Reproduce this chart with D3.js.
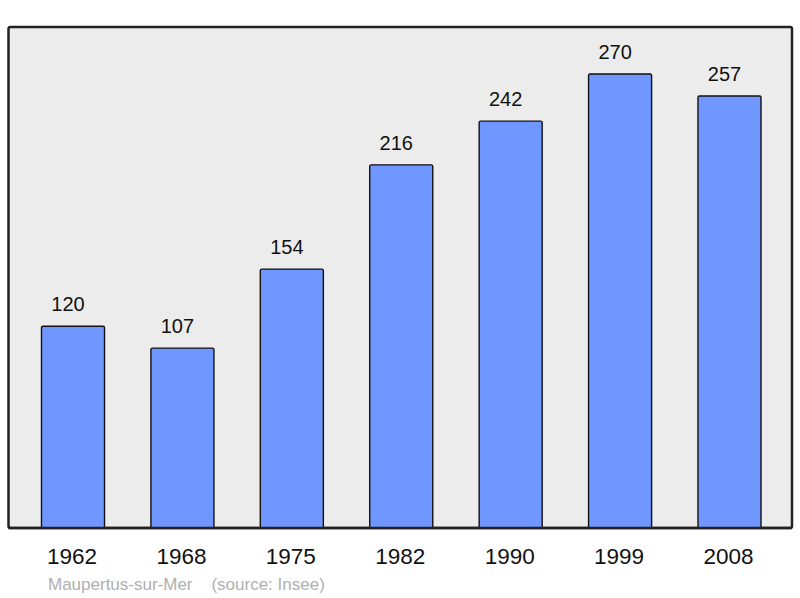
<!DOCTYPE html>
<html>
<head>
<meta charset="utf-8">
<script src="https://cdn.jsdelivr.net/npm/d3@7"></script>
<style>
  body { margin: 0; background: #fff; }
  svg { display: block; font-family: 'Liberation Sans', Arial, sans-serif; }
</style>
</head>
<body>
<div class="container"></div>
<script>
let years = ['1962', '1968', '1975', '1982', '1990', '1999', '2008']
let population = [120, 107, 154, 216, 242, 270, 257]
let caption = 'Maupertus-sur-Mer    (source: Insee)'

let width = 800
let height = 598
let plot = { left: 8.5, right: 792, top: 27, bottom: 528 }

let svg = d3.select('.container')
    .append('svg')
    .attr('width', width)
    .attr('height', height)

let xScale = d3.scaleBand()
    .domain(years)
    .range([18.3, 784.2])
    .paddingInner(0.424)
    .paddingOuter(0.212)

let yScale = d3.scaleLinear()
    .domain([0, 298])
    .range([plot.bottom, plot.top])

// background frame
svg.append('rect')
    .attr('x', plot.left)
    .attr('y', plot.top)
    .attr('width', plot.right - plot.left)
    .attr('height', plot.bottom - plot.top)
    .attr('rx', 2)
    .attr('fill', '#ececec')
    .attr('stroke', '#222')
    .attr('stroke-width', 2.5)

svg.selectAll('rect.bar')
    .data(population)
    .enter()
    .append('rect')
    .attr('class', 'bar')
    .attr('x', (d, i) => xScale(years[i]))
    .attr('y', d => yScale(d))
    .attr('width', xScale.bandwidth())
    .attr('height', d => plot.bottom - yScale(d))
    .attr('rx', 1.5)
    .attr('fill', '#7097ff')
    .attr('stroke', '#111')
    .attr('stroke-width', 1.4)

// redraw bottom edge so bars sit on the frame
svg.append('line')
    .attr('x1', plot.left)
    .attr('x2', plot.right)
    .attr('y1', plot.bottom)
    .attr('y2', plot.bottom)
    .attr('stroke', '#222')
    .attr('stroke-width', 2.5)

svg.selectAll('text.value')
    .data(population)
    .enter()
    .append('text')
    .attr('class', 'value')
    .attr('x', (d, i) => xScale(years[i]) + xScale.bandwidth() / 2 - 5)
    .attr('y', d => yScale(d) - 15)
    .attr('text-anchor', 'middle')
    .attr('font-size', 20)
    .attr('fill', '#111')
    .text(d => d)

let xAxis = d3.axisBottom(xScale).tickSize(0).tickPadding(0)
let axisG = svg.append('g')
    .attr('transform', `translate(0,${plot.bottom})`)
    .call(xAxis)
axisG.select('.domain').remove()
axisG.selectAll('text')
    .attr('font-size', 22.5)
    .attr('font-family', "'Liberation Sans', Arial, sans-serif")
    .attr('fill', '#111')
    .attr('dy', null)
    .attr('x', -1)
    .attr('y', 36)

svg.append('text')
    .attr('x', 48)
    .attr('y', 590)
    .attr('font-size', 17)
    .attr('fill', '#b0b0b0')
    .attr('xml:space', 'preserve')
    .style('white-space', 'pre')
    .text(caption)
</script>
</body>
</html>
